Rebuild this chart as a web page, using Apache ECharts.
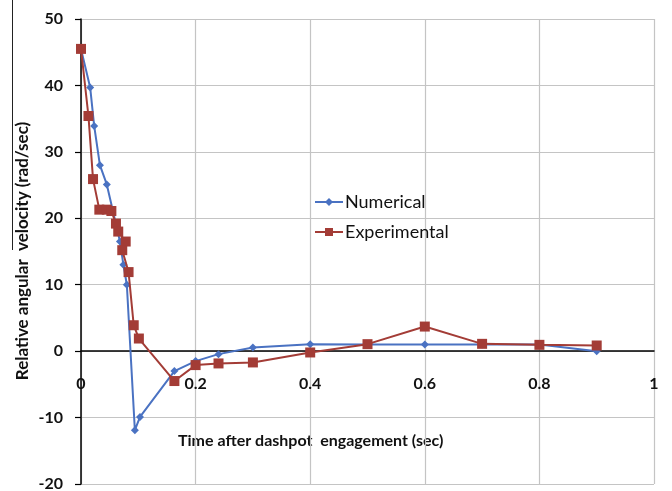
<!DOCTYPE html>
<html><head><meta charset="utf-8">
<script src="https://cdn.jsdelivr.net/npm/echarts@6/dist/echarts.min.js"></script>
<style>html,body{margin:0;padding:0;background:#fff}#c{width:672px;height:491px}</style>
</head><body><div id="c"></div>
<script>
const numX = [0, 0.016, 0.023, 0.033, 0.045, 0.068, 0.074, 0.08, 0.094, 0.103, 0.163, 0.2, 0.24, 0.3, 0.4, 0.5, 0.6, 0.7, 0.8, 0.9];
const numY = [45.5, 39.7, 33.9, 28.0, 25.1, 16.5, 13.0, 10.0, -11.9, -9.9, -3.0, -1.5, -0.45, 0.55, 1.05, 1.0, 1.0, 1.0, 1.0, 0.0];
const expX = [0, 0.013, 0.021, 0.032, 0.045, 0.053, 0.061, 0.065, 0.078, 0.072, 0.083, 0.092, 0.101, 0.163, 0.2, 0.24, 0.3, 0.4, 0.5, 0.6, 0.7, 0.8, 0.9];
const expY = [45.5, 35.4, 25.9, 21.3, 21.3, 21.1, 19.2, 18.0, 16.5, 15.2, 11.9, 3.9, 1.9, -4.5, -2.1, -1.85, -1.7, -0.2, 1.05, 3.7, 1.1, 0.95, 0.85];
const seriesNames = ['Numerical', 'Experimental'];
const xTitle = 'Time after dashpot  engagement (sec)';
const yTitle = 'Relative angular  velocity (rad/sec)';

const F = 'Lato, "Open Sans", sans-serif';
const chart = echarts.init(document.getElementById('c'), null, {renderer: 'canvas'});
chart.setOption({
  animation: false,
  grid: {left: 81, right: 18, top: 19, bottom: 7, containLabel: false, outerBoundsMode: 'none'},
  legend: {
    orient: 'vertical', left: 309, top: 188, itemGap: 12,
    itemWidth: 28, itemHeight: 10,
    textStyle: {fontFamily: F, fontSize: 18, color: '#111', padding: [0, 0, 0, -3]},
    data: seriesNames
  },
  xAxis: {
    type: 'value', min: 0, max: 1, interval: 0.2,
    axisLine: {onZero: true, lineStyle: {color: '#000', width: 1.5}},
    axisTick: {show: false},
    axisLabel: {fontFamily: F, fontWeight: 'bold', fontSize: 16, color: '#111', margin: -108,
      formatter: v => String(+v.toFixed(1))},
    splitLine: {show: true, lineStyle: {color: '#c4c4c4', width: 1.2}}
  },
  yAxis: {
    type: 'value', min: -20, max: 50, interval: 10,
    axisLine: {show: true, onZero: false, lineStyle: {color: '#000', width: 1.5}},
    axisTick: {show: true, length: 6, lineStyle: {color: '#000', width: 1.2}},
    axisLabel: {fontFamily: F, fontWeight: 'bold', fontSize: 16, color: '#111', margin: 18, align: 'right'},
    splitLine: {show: true, lineStyle: {color: '#c4c4c4', width: 1.2}}
  },
  graphic: [
    {type: 'line', shape: {x1: 12.5, y1: 0, x2: 12.5, y2: 250}, style: {stroke: '#222', lineWidth: 1}},
    {type: 'text', left: 178, top: 433, style: {text: xTitle, font: 'bold 16px ' + F, fill: '#111'}},
    {type: 'text', x: 23, y: 251, rotation: Math.PI / 2,
      style: {text: yTitle, font: 'bold 17px ' + F, fill: '#111', align: 'center', verticalAlign: 'middle'}}
  ],
  series: [
    {name: seriesNames[0], type: 'line', data: numX.map((x, i) => [x, numY[i]]),
      symbol: 'diamond', symbolSize: 8, showAllSymbol: true,
      lineStyle: {color: '#4a72c2', width: 2}, itemStyle: {color: '#4a72c2'}, z: 2},
    {name: seriesNames[1], type: 'line', data: expX.map((x, i) => [x, expY[i]]),
      symbol: 'rect', symbolSize: 10, showAllSymbol: true,
      lineStyle: {color: '#a33c36', width: 2}, itemStyle: {color: '#a33c36'}, z: 3}
  ]
});
</script></body></html>
